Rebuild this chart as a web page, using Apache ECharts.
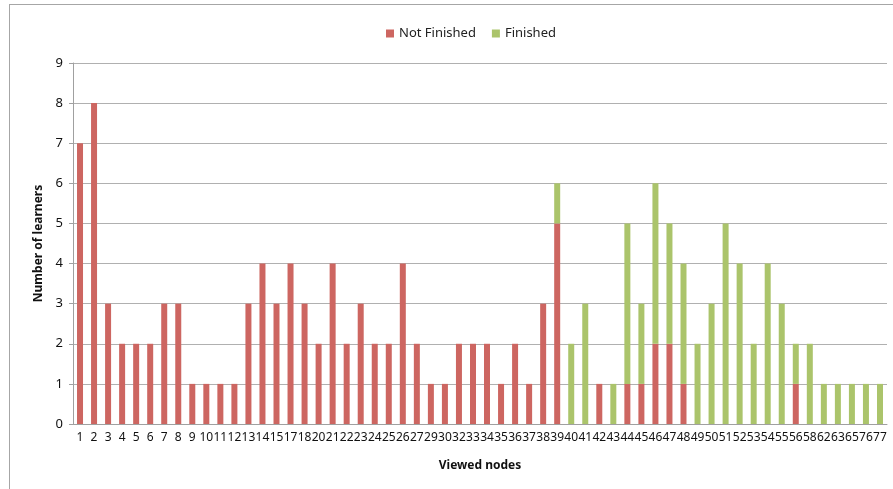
<!DOCTYPE html>
<html>
<head>
<meta charset="utf-8">
<script src="https://cdn.jsdelivr.net/npm/echarts@6/dist/echarts.min.js"></script>
<style>
html, body { margin: 0; padding: 0; background: #fff; overflow: hidden; }
#wrap { position: relative; width: 893px; height: 489px; }
#frame { position: absolute; left: 9px; top: 4px; width: 1000px; height: 600px; border: 1px solid #a6a6a6; box-sizing: border-box; }
#chart { position: absolute; left: 0; top: 0; width: 893px; height: 489px; }
</style>
</head>
<body>
<div id="wrap">
  <div id="frame"></div>
  <div id="chart"></div>
</div>
<script>
var nodes = ['1','2','3','4','5','6','7','8','9','10','11','12','13','14','15','17','18','20','21','22',
    '23','24','25','26','27','29','30','32','33','34','35','36','37','38','39','40','41','42','43','44',
    '45','46','47','48','49','50','51','52','53','54','55','56','58','62','63','65','76','77'];
var notFinished = [7,8,3,2,2,2,3,3,1,1,1,1,3,4,3,4,3,2,4,2,
    3,2,2,4,2,1,1,2,2,2,1,2,1,3,5,0,0,1,0,1,
    1,2,2,1,0,0,0,0,0,0,0,1,0,0,0,0,0,0];
var finished = [0,0,0,0,0,0,0,0,0,0,0,0,0,0,0,0,0,0,0,0,
    0,0,0,0,0,0,0,0,0,0,0,0,0,0,1,2,3,0,1,4,
    2,4,3,3,2,3,5,4,2,4,3,1,2,1,1,1,1,1];

function drawStackedBars(id){
    var chart = echarts.init(document.getElementById(id));
    var font = 'Noto Sans';
    chart.setOption({
        animation: false,
        legend: {
            top: 22,
            left: 381,
            itemWidth: 8,
            itemHeight: 8,
            itemGap: 16,
            icon: 'rect',
            textStyle: { fontFamily: font, fontSize: 13, color: '#222' },
            data: ['Not Finished', 'Finished']
        },
        grid: { left: 73, right: 6, top: 63, bottom: 65 },
        xAxis: {
            type: 'category',
            data: nodes,
            name: 'Viewed nodes',
            nameLocation: 'middle',
            nameGap: 36,
            nameTextStyle: { fontFamily: font, fontSize: 12, fontWeight: 'bold', color: '#111' },
            axisLine: { lineStyle: { color: '#a0a0a0' } },
            axisTick: { length: 4, lineStyle: { color: '#a0a0a0' } },
            axisLabel: { interval: 0, fontFamily: font, fontSize: 12, color: '#111', margin: 8 }
        },
        yAxis: {
            type: 'value',
            min: 0,
            max: 9,
            interval: 1,
            name: 'Number of learners',
            nameLocation: 'middle',
            nameRotate: 90,
            nameGap: 28,
            nameTextStyle: { fontFamily: font, fontSize: 12, fontWeight: 'bold', color: '#111' },
            axisLine: { show: true, lineStyle: { color: '#a0a0a0' } },
            axisTick: { show: true, length: 4, lineStyle: { color: '#a0a0a0' } },
            axisLabel: { fontFamily: font, fontSize: 13, color: '#111', margin: 10 },
            splitLine: { lineStyle: { color: '#b0b0b0' } }
        },
        series: [
            { name: 'Not Finished', type: 'bar', stack: 'all', barWidth: 6,
              itemStyle: { color: '#cd6661' }, data: notFinished },
            { name: 'Finished', type: 'bar', stack: 'all', barWidth: 6,
              itemStyle: { color: '#abc46b' }, data: finished }
        ]
    });
    window.onresize = function(){
        chart.resize();
    }
}
drawStackedBars('chart');
</script>
</body>
</html>
